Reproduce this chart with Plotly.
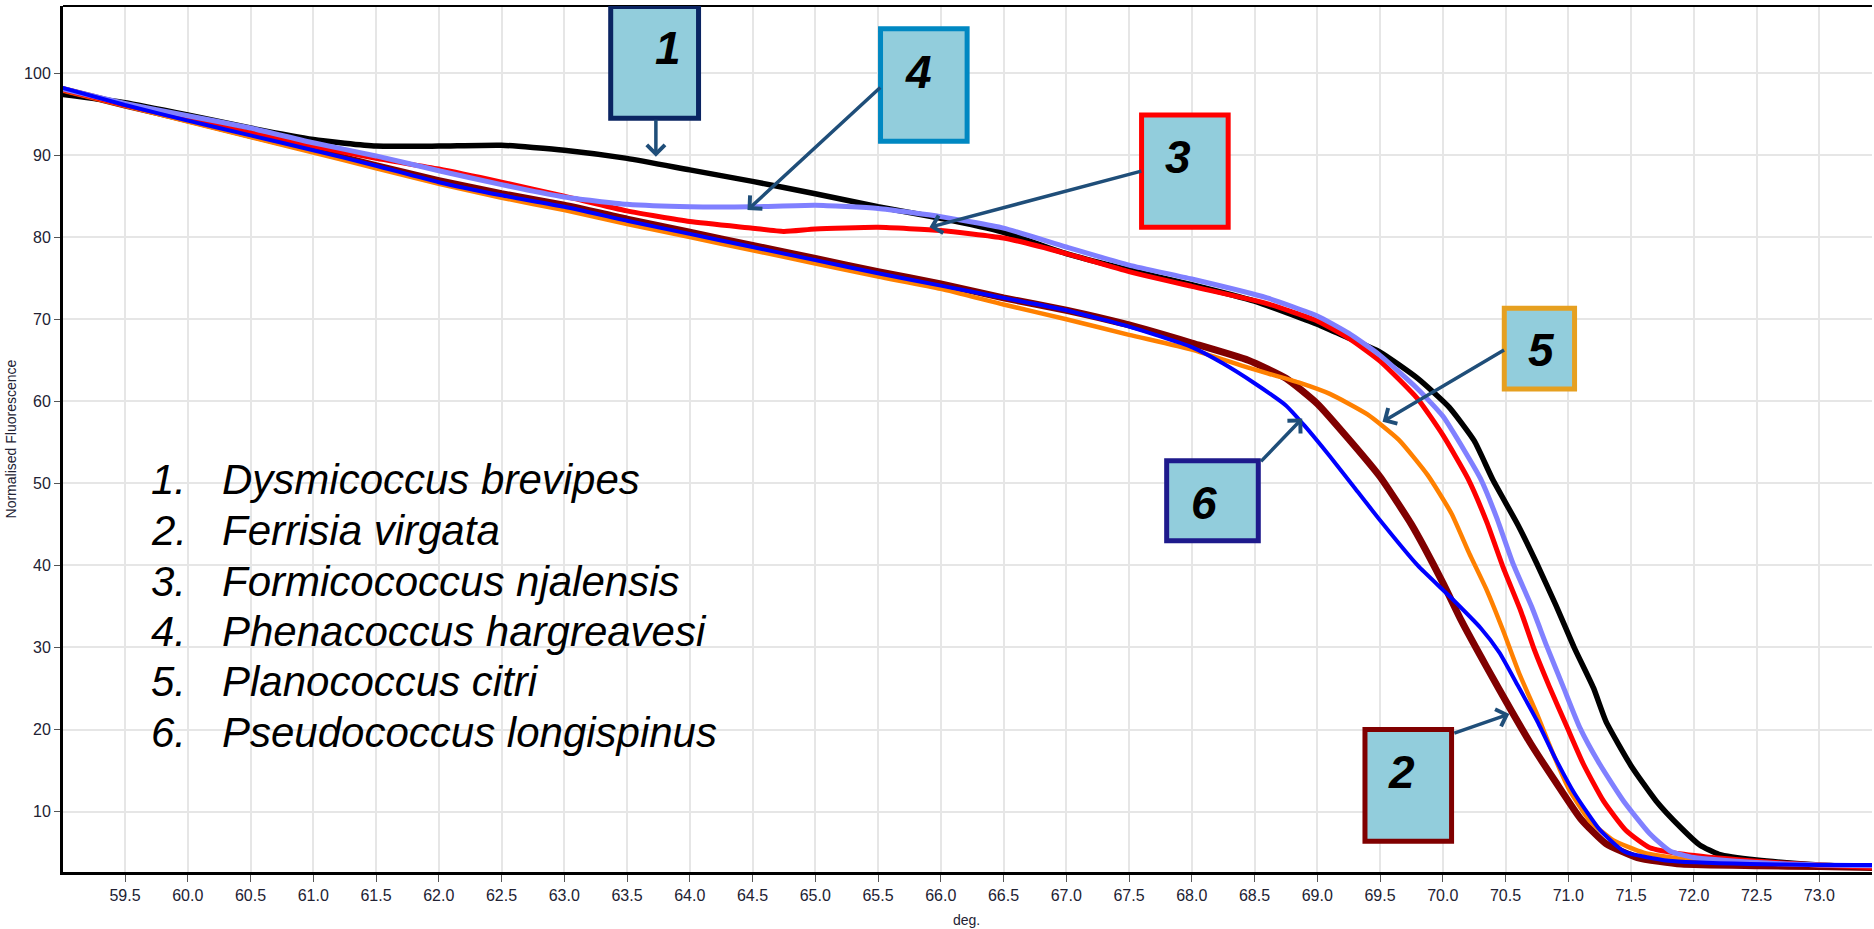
import plotly.graph_objects as go

# ---------------- data ----------------
black_x = [59.0, 59.5, 60.0, 60.5, 61.0, 61.5, 62.0, 62.5, 63.0, 63.5, 64.0, 64.5, 65.0, 65.5, 66.0, 66.5, 67.0, 67.5, 68.0,
           68.5, 69.0, 69.25, 69.5, 69.8, 70.05, 70.25, 70.4, 70.6, 70.75, 70.9, 71.05, 71.2, 71.3, 71.5, 71.7, 71.9,
           72.05, 72.2, 72.5, 73.0, 73.42]
black_y = [97.4, 96.4, 94.9, 93.3, 91.9, 91.1, 91.1, 91.2, 90.6, 89.6, 88.2, 86.8, 85.3, 83.7, 82.3, 80.6, 78.0, 76.0, 74.2,
           72.2, 69.4, 67.7, 66.0, 62.8, 59.3, 55.2, 50.4, 44.9, 40.2, 35.2, 29.9, 25.1, 21.0, 15.6, 11.3, 8.0,
           5.9, 4.8, 4.1, 3.5, 3.2]

brown_x = [59.0, 59.5, 60.0, 60.5, 61.0, 61.5, 62.0, 62.5, 63.0, 63.5, 64.0, 64.5, 65.0, 65.5, 66.0, 66.5, 67.0, 67.5, 68.0,
           68.45, 68.75, 69.0, 69.25, 69.5, 69.75, 70.0, 70.15, 70.35, 70.55, 70.7, 70.9, 71.1, 71.3, 71.55, 71.9,
           72.5, 73.0, 73.42]
brown_y = [98.0, 96.1, 94.3, 92.4, 90.6, 88.7, 86.9, 85.3, 83.9, 82.2, 80.6, 79.0, 77.4, 75.8, 74.3, 72.6, 71.1, 69.3, 67.1,
           65.0, 62.8, 59.7, 55.4, 50.8, 45.0, 37.9, 33.2, 27.6, 22.2, 18.3, 13.6, 9.1, 6.1, 4.4, 3.6,
           3.4, 3.3, 3.2]

orange_x = [59.0, 59.5, 60.0, 60.5, 61.0, 61.5, 62.0, 62.5, 63.0, 63.5, 64.0, 64.5, 65.0, 65.5, 66.0, 66.5, 67.0, 67.5, 68.0,
            68.45, 68.85, 69.1, 69.4, 69.65, 69.88, 70.07, 70.21, 70.35, 70.48, 70.61, 70.75, 70.88, 71.01, 71.17, 71.36,
            71.6, 71.92, 72.5, 73.0, 73.42]
orange_y = [97.9, 96.0, 94.1, 92.2, 90.3, 88.4, 86.5, 84.8, 83.3, 81.6, 80.0, 78.4, 76.8, 75.2, 73.7, 71.8, 70.0, 68.1, 66.3,
            64.1, 62.3, 60.9, 58.4, 55.3, 51.0, 46.3, 41.5, 37.0, 32.1, 26.8, 21.9, 17.0, 12.6, 8.9, 6.5,
            5.0, 4.2, 3.7, 3.5, 3.4]

red_x = [59.0, 59.5, 60.0, 60.5, 61.0, 61.5, 62.0, 62.5, 63.0, 63.5, 64.0, 64.5, 64.75, 65.0, 65.5, 66.0, 66.5, 67.0, 67.5,
         68.0, 68.6, 69.0, 69.25, 69.5, 69.8, 70.0, 70.2, 70.35, 70.48, 70.62, 70.73, 70.85, 70.99, 71.12, 71.28,
         71.46, 71.65, 71.92, 72.45, 72.85, 73.42]
red_y = [98.0, 96.1, 94.4, 92.7, 91.1, 89.6, 88.3, 86.7, 85.0, 83.2, 81.9, 81.1, 80.7, 81.0, 81.2, 80.8, 79.9, 78.0, 75.8,
         74.0, 71.9, 69.8, 67.7, 64.9, 60.3, 55.9, 50.6, 45.3, 39.8, 34.5, 29.7, 25.2, 20.3, 15.8, 11.3,
         7.7, 5.6, 4.8, 4.0, 3.6, 3.2]

lav_x = [59.0, 59.5, 60.0, 60.5, 61.0, 61.5, 62.0, 62.5, 63.0, 63.5, 64.0, 64.5, 65.0, 65.5, 66.0, 66.5, 67.0, 67.5, 68.0,
         68.6, 69.0, 69.25, 69.5, 69.8, 70.0, 70.18, 70.3, 70.43, 70.56, 70.71, 70.83, 70.96, 71.09, 71.25, 71.44,
         71.65, 71.81, 72.0, 72.5, 73.0, 73.42]
lav_y = [98.1, 96.3, 94.8, 93.3, 91.5, 89.9, 88.1, 86.4, 84.9, 84.0, 83.7, 83.7, 83.9, 83.5, 82.5, 81.1, 78.8, 76.6, 74.9,
         72.6, 70.4, 68.3, 65.6, 61.5, 58.2, 53.8, 50.6, 45.8, 40.2, 34.9, 30.1, 25.2, 20.3, 15.8, 11.3,
         7.3, 5.2, 4.4, 3.8, 3.5, 3.4]

blue_x = [59.0, 59.5, 60.0, 60.5, 61.0, 61.5, 62.0, 62.5, 63.0, 63.5, 64.0, 64.5, 65.0, 65.5, 66.0, 66.5, 67.0, 67.5, 68.0,
          68.25, 68.5, 68.75, 68.9, 69.1, 69.3, 69.5, 69.8, 70.05, 70.3, 70.45, 70.6, 70.75, 70.9, 71.05, 71.25,
          71.45, 71.8, 72.45, 73.0, 73.42]
blue_y = [98.2, 96.1, 94.2, 92.4, 90.6, 88.7, 86.7, 85.1, 83.7, 82.0, 80.4, 78.8, 77.2, 75.6, 74.1, 72.6, 71.1, 69.1, 66.6,
          64.6, 62.2, 59.5, 57.0, 53.3, 49.4, 45.5, 40.0, 36.3, 32.4, 29.4, 25.3, 21.1, 16.4, 12.2, 7.8,
          5.1, 4.0, 3.6, 3.5, 3.5]

species = ["Dysmicoccus brevipes", "Ferrisia virgata", "Formicococcus njalensis",
           "Phenacoccus hargreavesi", "Planococcus citri", "Pseudococcus longispinus"]
y_ticks = [10, 20, 30, 40, 50, 60, 70, 80, 90, 100]

# ---------------- figure ----------------
FONT = "Liberation Sans, Arial, sans-serif"
series = [
    (black_x, black_y, "#000000", 5.5, species[0]),
    (brown_x, brown_y, "#800000", 7, species[1]),
    (orange_x, orange_y, "#FF8000", 4.5, species[4]),
    (red_x, red_y, "#FF0000", 5, species[2]),
    (lav_x, lav_y, "#8080FF", 5, species[3]),
    (blue_x, blue_y, "#0000FF", 4, species[5]),
]

fig = go.Figure()
for xs, ys, col, w, name in series:
    fig.add_trace(go.Scatter(x=xs, y=ys, mode="lines", name=name,
                             line=dict(color=col, width=w, shape="spline", smoothing=0.5),
                             hoverinfo="skip"))

fig.update_layout(
    width=1874, height=929,
    margin=dict(l=63, r=2, t=6, b=57),
    paper_bgcolor="white", plot_bgcolor="white",
    showlegend=False,
    font=dict(family=FONT, color="#222233"),
)
fig.update_xaxes(range=[59.006, 73.42], tick0=59.5, dtick=0.5, tickformat=".1f",
                 showgrid=True, gridcolor="#E6E6E6", gridwidth=2,
                 showline=True, linecolor="black", linewidth=3,
                 ticks="outside", ticklen=7, tickcolor="#555555", tickwidth=1,
                 tickfont=dict(size=16, family=FONT, color="#222233"), zeroline=False)
fig.update_yaxes(range=[2.64, 108.17], tickvals=y_ticks,
                 showgrid=True, gridcolor="#E6E6E6", gridwidth=2,
                 showline=True, linecolor="black", linewidth=3,
                 ticks="outside", ticklen=6, tickcolor="#555555", tickwidth=1,
                 tickfont=dict(size=16, family=FONT, color="#222233"), zeroline=False)

# top border
fig.add_shape(type="line", xref="paper", yref="paper", x0=0, x1=1, y0=1, y1=1,
              line=dict(color="black", width=2))

# axis titles as annotations
fig.add_annotation(text="Normalised Fluorescence", xref="paper", yref="paper",
                   x=-0.0285, y=0.5, textangle=-90, showarrow=False,
                   font=dict(size=14, family=FONT, color="#222233"), xanchor="center", yanchor="middle")
fig.add_annotation(text="deg.", xref="paper", yref="paper", x=0.4995, y=-0.0555,
                   showarrow=False, font=dict(size=14, family=FONT, color="#222233"),
                   xanchor="center", yanchor="middle")

# species list
row_y = [50.5, 44.3, 38.1, 32.0, 25.8, 19.6]
for i, (name, yy) in enumerate(zip(species, row_y)):
    fig.add_annotation(text=f"<i>{i+1}.</i>", x=59.69, y=yy, xref="x", yref="y", showarrow=False,
                       xanchor="left", yanchor="middle", font=dict(size=42, family=FONT, color="black"))
    fig.add_annotation(text=f"<i>{name}</i>", x=60.26, y=yy, xref="x", yref="y", showarrow=False,
                       xanchor="left", yanchor="middle", font=dict(size=42, family=FONT, color="black"))

# numbered callout boxes: (label, x0, x1, y0, y1, border colour, text x, text y, arrow tail, arrow tip)
boxes = [
    ("1", 63.37, 64.07, 94.5, 108.1, "#0A2462", 63.83, 103.0, (63.73, 94.5), (63.73, 89.8)),
    ("4", 65.52, 66.21, 91.7, 105.4, "#0088C2", 65.82, 100.1, (65.53, 98.4), (64.46, 83.3)),
    ("3", 67.60, 68.29, 81.2, 94.9, "#FF0000", 67.89, 89.8, (67.61, 88.1), (65.91, 81.2)),
    ("5", 70.49, 71.05, 61.5, 71.35, "#E6A020", 70.79, 66.2, (70.50, 66.35), (69.52, 57.5)),
    ("6", 67.80, 68.53, 43.0, 52.75, "#1E1A8C", 68.10, 47.6, (68.54, 52.5), (68.88, 57.9)),
    ("2", 69.38, 70.07, 6.4, 20.0, "#800000", 69.67, 14.8, (70.08, 19.5), (70.53, 21.9)),
]
for lab, x0, x1, y0, y1, bc, tx, ty, tail, tip in boxes:
    fig.add_shape(type="rect", xref="x", yref="y", x0=x0, x1=x1, y0=y0, y1=y1,
                  fillcolor="#92CDDC", line=dict(color=bc, width=5), layer="above")
    fig.add_annotation(text=f"<b><i>{lab}</i></b>", x=tx, y=ty, xref="x", yref="y", showarrow=False,
                       font=dict(size=46, family=FONT, color="black"))
    fig.add_annotation(text="", x=tip[0], y=tip[1], ax=tail[0], ay=tail[1],
                       xref="x", yref="y", axref="x", ayref="y", showarrow=True,
                       arrowhead=4, arrowsize=1.0, arrowwidth=3.5, arrowcolor="#1F4E79", standoff=0)

fig.write_html("out.html", config={"displayModeBar": False},
               post_script="document.body.style.margin='0';document.body.style.overflow='hidden';")
